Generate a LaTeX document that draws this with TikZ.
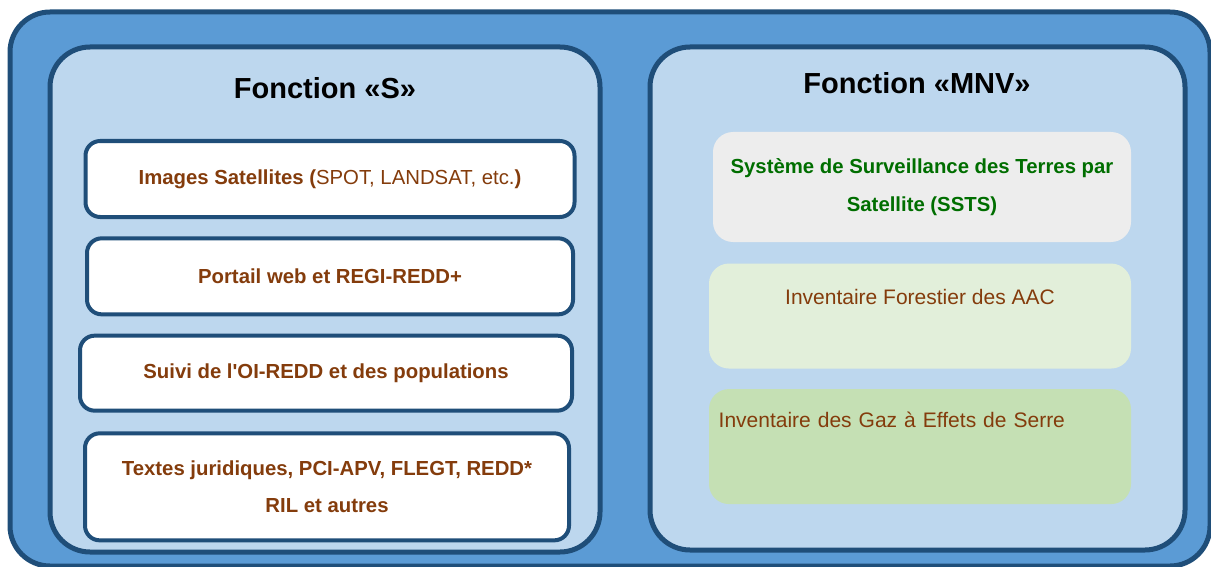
\documentclass[tikz,border=0pt]{standalone}
\usepackage{fontspec}
\setmainfont{Liberation Sans}
\usepackage{xcolor}
\usepackage{tikz}
\usetikzlibrary{shapes,positioning,calc}
\definecolor{darkblue}{HTML}{1F4E79}
\definecolor{midblue}{HTML}{5B9BD5}
\definecolor{paleblue}{HTML}{BDD7EE}
\definecolor{palegray}{HTML}{EDEDED}
\definecolor{palegreen}{HTML}{E2EFDA}
\definecolor{softgreen}{HTML}{C5E0B4}
\definecolor{brown}{HTML}{843C0C}
\definecolor{textgreen}{RGB}{0,110,0}
\tikzstyle{panel} = [rectangle, rounded corners=30pt, draw=darkblue, line width=3.75pt, fill=paleblue, inner sep=0pt]
\tikzstyle{title} = [font=\fontsize{21.75}{26}\selectfont\bfseries, text=black]
\tikzstyle{item} = [rectangle, rounded corners=11pt, draw=darkblue, line width=3pt, fill=white, text centered, align=center, inner sep=0pt, font=\fontsize{15.25}{28}\selectfont\bfseries, text=brown]
\tikzstyle{mnv} = [rectangle, rounded corners=15pt, align=center, inner sep=0pt, font=\fontsize{15.75}{28}\selectfont, text=brown]

\begin{document}
\begin{tikzpicture}[x=0.75pt,y=-0.75pt,node distance=13pt]
	\useasboundingbox (0,0) rectangle (1211,567);
	\clip (0,0) rectangle (1211,567);
	\draw[draw=darkblue, fill=midblue, line width=3.75pt, rounded corners=30pt] (10,12) rectangle (1210,566);

	\node (panelS) [panel, minimum width=412.5pt, minimum height=378.75pt] at (325,299.5) {};
	\node (panelMNV) [panel, minimum width=401.25pt, minimum height=377.25pt] at (917.5,298.5) {};
	\node (titleS) [title] at (325,88) {Fonction «S»};
	\node (titleMNV) [title] at (917,83) {Fonction «MNV»};

	\node (images) [item, minimum width=366.75pt, minimum height=57pt] at (330,179) {Images Satellites (\mdseries SPOT, LANDSAT, etc.\bfseries)};
	\node (portail) [item, minimum width=364.5pt, minimum height=57pt, below=13pt of images] {Portail web et REGI-REDD+};
	\node (suivi) [item, minimum width=369pt, minimum height=56.25pt, below=13pt of portail, xshift=-3pt] {Suivi de l\textquotesingle OI-REDD et des populations};
	\node (textes) [item, minimum width=363pt, minimum height=80.25pt, below=14pt of suivi, xshift=0.75pt] {Textes juridiques, PCI-APV, FLEGT, REDD*\\RIL et autres};

	\node (ssts) [mnv, fill=palegray, text=textgreen, font=\fontsize{15.25}{28.5}\selectfont\bfseries, minimum width=313.5pt, minimum height=82.5pt] at (922,187) {Système de Surveillance des Terres par\\Satellite (SSTS)};
	\node (aac) [mnv, fill=palegreen, minimum width=316.5pt, minimum height=78.75pt, below=15.75pt of ssts, xshift=-1.5pt] {Inventaire Forestier des AAC\\ \mbox{}};
	\node (ges) [mnv, fill=softgreen, minimum width=316.5pt, minimum height=86.25pt, text width=302pt, align=left, inner xsep=7pt, below=15pt of aac] {Inventaire des Gaz à Effets de Serre\\[12pt] \mbox{}};
\end{tikzpicture}
\end{document}
